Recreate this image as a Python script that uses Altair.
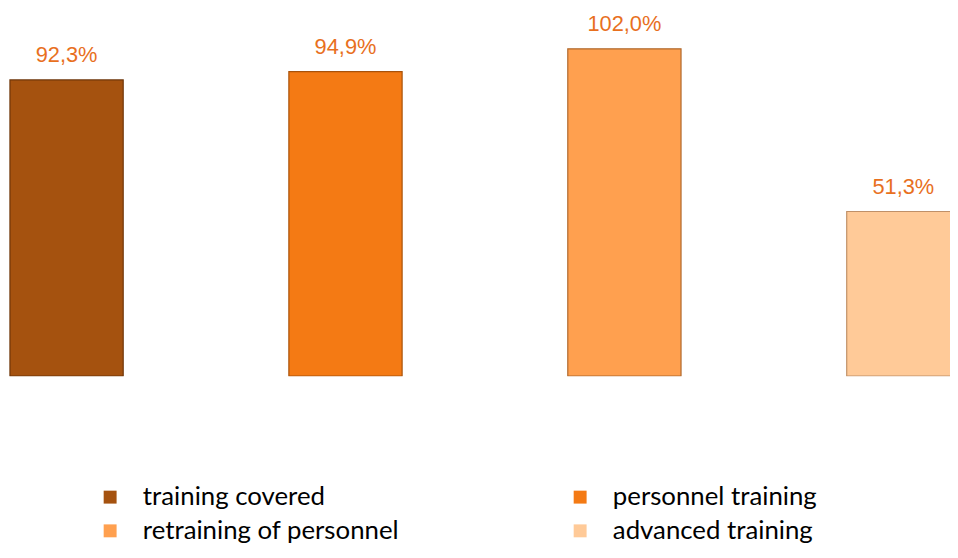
import altair as alt
import pandas as pd

categories = ["training covered", "personnel training", "retraining of personnel", "advanced training"]
values = [92.3, 94.9, 102.0, 51.3]
colors = ["#A5520F", "#F47A14", "#FFA04F", "#FFCA98"]
strokes = ["#6E3508", "#A8520A", "#B0682C", "#C09068"]

df = pd.DataFrame({"category": categories, "value": values})

x_enc = alt.X("category:N", sort=categories, axis=None,
              scale=alt.Scale(range=[0, 962], paddingInner=0.594, paddingOuter=0.007))
y_enc = alt.Y("value:Q", axis=None, scale=alt.Scale(domain=[0, 114], nice=False, zero=True))

bars = alt.Chart(df).mark_bar(clip=True, strokeWidth=1.2).encode(
    x=x_enc,
    y=y_enc,
    color=alt.Color("category:N", sort=categories,
                    scale=alt.Scale(domain=categories, range=colors),
                    legend=alt.Legend(
                        title=None, orient="none", legendX=90, legendY=478,
                        direction="horizontal",
                        columns=2, columnPadding=169, rowPadding=8,
                        symbolType="square", symbolSize=170, symbolStrokeWidth=0,
                        labelFont="Lato", labelFontSize=26, labelColor="#000000",
                        labelOffset=20, labelLimit=400)),
    stroke=alt.Stroke("category:N", sort=categories,
                      scale=alt.Scale(domain=categories, range=strokes), legend=None),
)

labels = alt.Chart(df).transform_calculate(
    label="replace(format(datum.value, '.1f'), '.', ',') + '%'"
).mark_text(baseline="bottom", dy=-13, font="Liberation Sans", fontSize=22,
            color="#E8701E").encode(
    x=x_enc,
    y=y_enc,
    text="label:N",
)

chart = alt.layer(bars, labels).properties(
    width=950, height=369, padding=0
).configure_view(stroke=None)

chart.save("out.html", embed_options={"renderer": "svg", "actions": False})
